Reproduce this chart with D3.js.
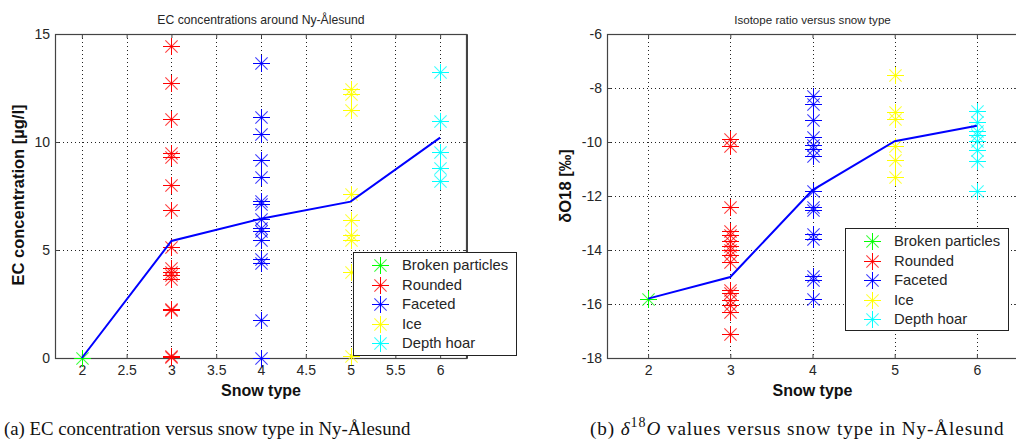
<!DOCTYPE html>
<html><head><meta charset="utf-8">
<script src="https://cdn.jsdelivr.net/npm/d3@7/dist/d3.min.js"></script>
<style>body{margin:0;background:#fff} svg{display:block}</style>
</head><body>
<svg id="c" width="1016" height="441"></svg>
<script>
// ---------- data ----------
const seriesNames = ["Broken particles", "Rounded", "Faceted", "Ice", "Depth hoar"];
const seriesColors = ["#00ff00", "#ff0000", "#0000ff", "#ffff00", "#00ffff"];
const snowTypes = [2, 3, 4, 5, 6];

// (a) EC concentration [µg/l]
const ecBroken = [0];
const ecRounded = [14.45, 12.75, 11.05, 9.5, 9.3, 8.0, 6.85, 5.15, 4.15, 4.0, 3.85, 3.65, 2.25, 2.2, 0.1, 0.05];
const ecFaceted = [13.65, 11.15, 10.35, 9.15, 8.4, 7.25, 7.15, 6.45, 6.0, 5.9, 5.45, 4.6, 4.4, 1.75, 0];
const ecIce = [12.45, 12.2, 11.5, 7.6, 6.4, 5.7, 5.45, 4.0, 0.1];
const ecDepthHoar = [13.25, 10.95, 9.55, 8.8, 8.2];
const ecMean = [0, 5.42, 6.45, 7.24, 10.2];
const ecXTicks = [2, 2.5, 3, 3.5, 4, 4.5, 5, 5.5, 6];
const ecYTicks = [0, 5, 10, 15];

// (b) delta O18 [permil]
const d18Broken = [-15.8];
const d18Rounded = [-9.9, -10.15, -12.4, -13.3, -13.45, -13.65, -13.85, -14.0, -14.2, -14.45, -15.5, -15.6, -15.85, -16.05, -16.3, -17.1];
const d18Faceted = [-8.3, -8.6, -9.2, -9.8, -10.1, -10.25, -10.5, -11.8, -12.4, -12.5, -13.4, -13.6, -14.95, -15.1, -15.8];
const d18Ice = [-7.5, -8.9, -9.15, -10.15, -10.65, -11.3];
const d18DepthHoar = [-8.85, -9.25, -9.6, -9.75, -9.95, -10.3, -10.7, -11.8];
const d18Mean = [-15.8, -15.0, -11.78, -9.97, -9.4];
const d18XTicks = [2, 3, 4, 5, 6];
const d18YTicks = [-18, -16, -14, -12, -10, -8, -6];

// ---------- drawing ----------
const svg = d3.select("#c");
const FONT = "'Liberation Sans', Arial, sans-serif";

function star(g, x, y, color, r) {
  const cx = Math.round(x) + 0.5, cy = Math.round(y) + 0.5;
  const d = r * 0.72;
  const s = g.append("g").attr("transform", `translate(${cx},${cy})`);
  s.append("path").attr("d", `M${-d},${-d}L${d},${d}M${-d},${d}L${d},${-d}`)
    .attr("stroke", color).attr("stroke-width", 1.1).attr("stroke-opacity", 0.75).attr("fill", "none");
  s.append("path").attr("d", `M${-r},0H${r}M0,${-r}V${r}`)
    .attr("stroke", color).attr("stroke-width", 1).attr("fill", "none")
    .attr("shape-rendering", "crispEdges");
}

function panel(cfg) {
  const { x0, x1, y0, y1 } = cfg.box;
  const x = d3.scaleLinear().domain(cfg.xDomain).range([x0, x1]);
  const y = d3.scaleLinear().domain(cfg.yDomain).range([y1, y0]);
  const g = svg.append("g");

  // grid
  const grid = g.append("g").attr("stroke", "#222").attr("stroke-width", 1)
    .attr("stroke-dasharray", "1,3").attr("shape-rendering", "crispEdges");
  cfg.xTicks.forEach(t => {
    const px = Math.round(x(t)) + 0.5;
    if (px > x0 + 1 && px < x1 - 1) grid.append("line").attr("x1", px).attr("x2", px).attr("y1", y0).attr("y2", y1);
  });
  cfg.yTicks.forEach(t => {
    const py = Math.round(y(t)) + 0.5;
    if (py > y0 + 1 && py < y1 - 1) grid.append("line").attr("x1", x0).attr("x2", x1).attr("y1", py).attr("y2", py);
  });

  // axes
  const axB = g.append("g").attr("transform", `translate(0,${y1})`)
    .call(d3.axisBottom(x).tickValues(cfg.xTicks).tickFormat(d3.format("")).tickSizeInner(-4).tickSizeOuter(0).tickPadding(7));
  const axT = g.append("g").attr("transform", `translate(0,${y0})`)
    .call(d3.axisTop(x).tickValues(cfg.xTicks).tickFormat("").tickSizeInner(-4).tickSizeOuter(0));
  const axL = g.append("g").attr("transform", `translate(${x0},0)`)
    .call(d3.axisLeft(y).tickValues(cfg.yTicks).tickFormat(d3.format("")).tickSizeInner(-4).tickSizeOuter(0).tickPadding(5));
  const axR = g.append("g").attr("transform", `translate(${x1},0)`)
    .call(d3.axisRight(y).tickValues(cfg.yTicks).tickFormat("").tickSizeInner(-4).tickSizeOuter(0));
  [axB, axT, axL, axR].forEach(a => {
    a.select(".domain").attr("stroke", "#444");
    a.selectAll(".tick line").attr("stroke", "#444");
    a.selectAll("text").attr("font-family", FONT).attr("font-size", 14).attr("fill", "#262626");
  });
  axL.selectAll("text").text(d => d < 0 ? "-" + Math.abs(d) : d);

  // box
  g.append("rect").attr("x", x0 + 0.5).attr("y", y0 + 0.5).attr("width", x1 - x0 - 1).attr("height", y1 - y0)
    .attr("fill", "none").attr("stroke", "#444").attr("stroke-width", 1.2);

  // points
  const pts = g.append("g");
  cfg.series.forEach((vals, i) => {
    vals.forEach(v => star(pts, x(snowTypes[i]), y(v), seriesColors[i], 8.5));
  });

  // mean line
  g.append("path")
    .datum(snowTypes.map((s, i) => [s, cfg.mean[i]]))
    .attr("d", d3.line().x(d => x(d[0])).y(d => y(d[1])))
    .attr("fill", "none").attr("stroke", "#0000ff").attr("stroke-width", 2);

  // title
  g.append("text").attr("x", (x0 + x1) / 2).attr("y", 24).attr("text-anchor", "middle")
    .attr("font-family", FONT).attr("font-size", cfg.titleSize).attr("fill", "#262626").text(cfg.title);
  // xlabel
  g.append("text").attr("x", (x0 + x1) / 2 + cfg.xlabelDx).attr("y", 396).attr("text-anchor", "middle")
    .attr("font-family", FONT).attr("font-size", 16).attr("font-weight", "bold").attr("fill", "#111").text("Snow type");
  // ylabel
  g.append("text").attr("transform", `translate(${cfg.ylabelX},${(y0 + y1) / 2 + cfg.ylabelDy}) rotate(-90)`)
    .attr("text-anchor", "middle").attr("font-family", FONT).attr("font-size", 16.5).attr("font-weight", "bold")
    .attr("fill", "#111").text(cfg.ylabel);

  // legend
  const L = cfg.legend;
  const lg = g.append("g");
  lg.append("rect").attr("x", L.x + 0.5).attr("y", L.y + 0.5).attr("width", L.w).attr("height", L.h)
    .attr("fill", "#fff").attr("stroke", "#222").attr("stroke-width", 1);
  seriesNames.forEach((n, i) => {
    const ry = L.y + 13 + i * 19.6;
    star(lg, L.x + 27, ry, seriesColors[i], 8.5);
    lg.append("text").attr("x", L.x + 49).attr("y", ry + 5).attr("font-family", FONT)
      .attr("font-size", 14.8).attr("fill", "#262626").text(n);
  });
}

panel({
  box: { x0: 55, x1: 467, y0: 34, y1: 358 },
  xDomain: [1.7, 6.3], yDomain: [0, 15],
  xTicks: ecXTicks, yTicks: ecYTicks,
  series: [ecBroken, ecRounded, ecFaceted, ecIce, ecDepthHoar],
  mean: ecMean,
  title: "EC concentrations around Ny-Ålesund", titleSize: 12.2,
  ylabel: "EC concentration [µg/l]", ylabelX: 24, ylabelDy: -1, xlabelDx: 0,
  legend: { x: 353, y: 252, w: 163, h: 103 }
});
panel({
  box: { x0: 607, x1: 1018, y0: 34, y1: 358 },
  xDomain: [1.5, 6.5], yDomain: [-18, -6],
  xTicks: d18XTicks, yTicks: d18YTicks,
  series: [d18Broken, d18Rounded, d18Faceted, d18Ice, d18DepthHoar],
  mean: d18Mean,
  title: "Isotope ratio versus snow type", titleSize: 11.6,
  ylabel: "δO18 [‰]", ylabelX: 571, ylabelDy: -10, xlabelDx: 0,
  legend: { x: 845, y: 228, w: 163, h: 102 }
});

// captions
const CAP = "'Liberation Serif', 'Times New Roman', serif";
svg.append("text").attr("x", 4).attr("y", 435).attr("font-family", CAP).attr("font-size", 18.8).attr("fill", "#111")
  .text("(a)  EC concentration versus snow type in Ny-Ålesund");
const cb = svg.append("text").attr("x", 590).attr("y", 435).attr("font-family", CAP).attr("font-size", 19.2)
  .attr("letter-spacing", "0.9px").attr("fill", "#111");
cb.append("tspan").text("(b)  ");
cb.append("tspan").attr("font-style", "italic").text("δ");
cb.append("tspan").attr("font-size", 14).attr("dy", -8).text("18");
cb.append("tspan").attr("font-style", "italic").attr("dy", 8).text("O");
cb.append("tspan").text(" values versus snow type in Ny-Ålesund");
</script>
</body></html>
